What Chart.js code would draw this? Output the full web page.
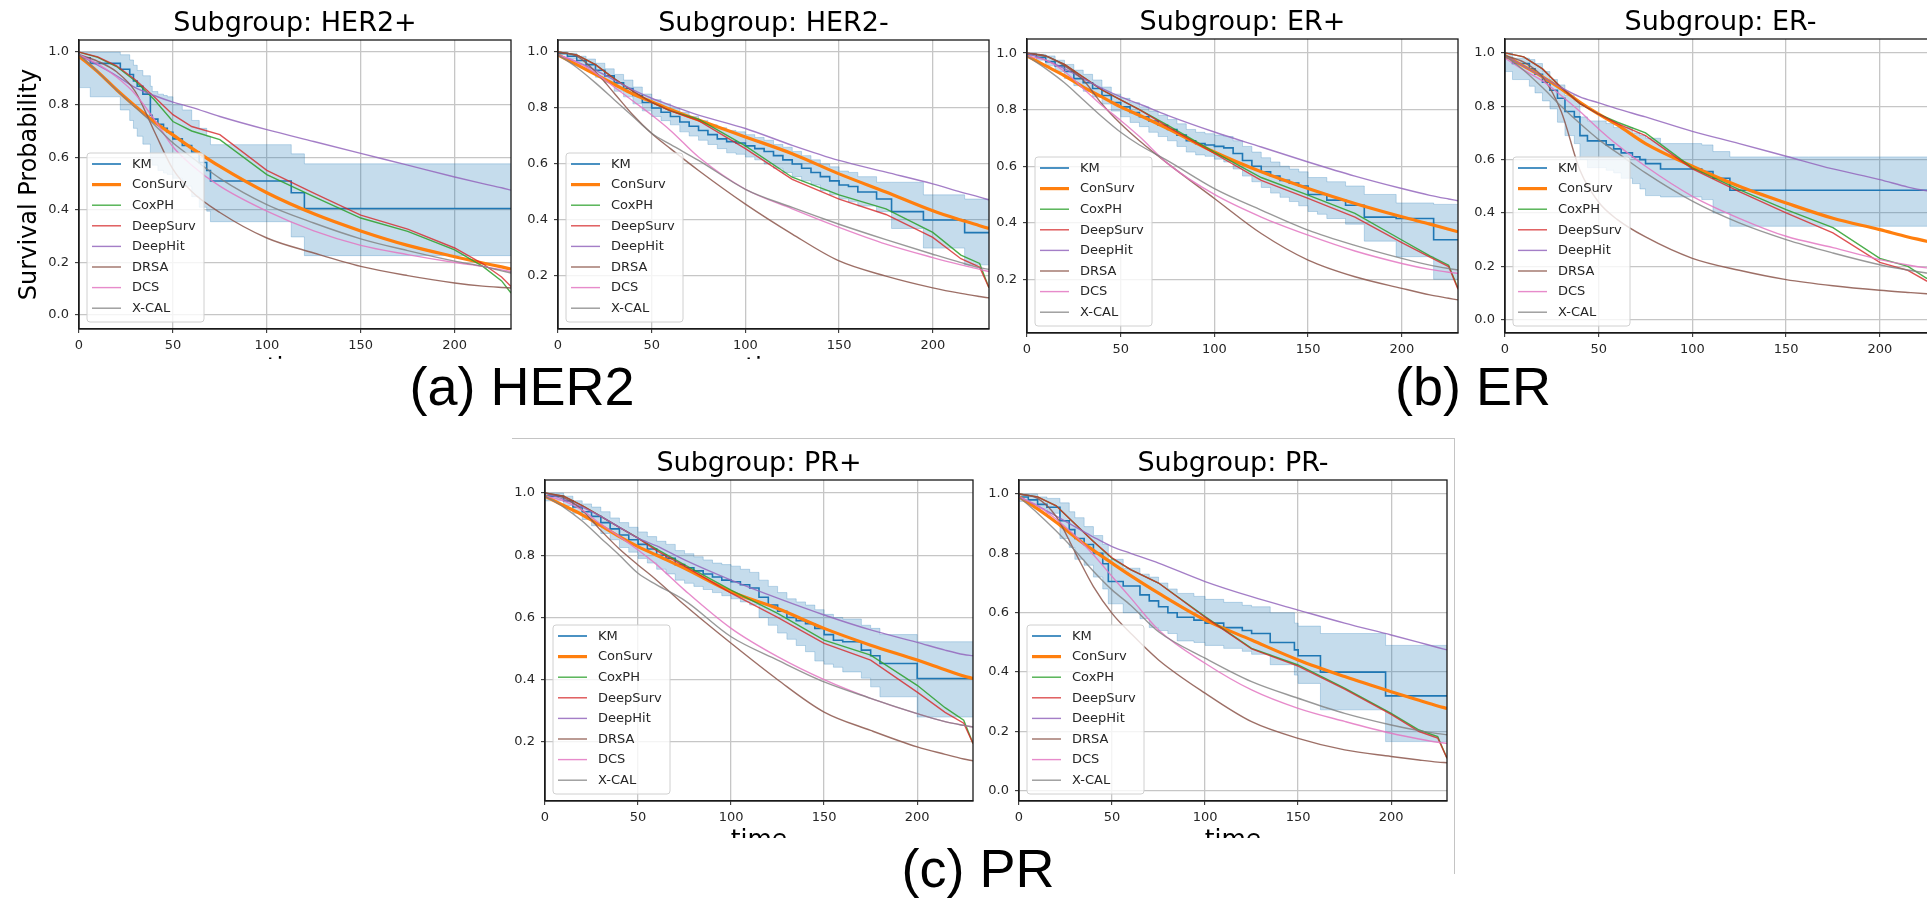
<!DOCTYPE html>
<html>
<head>
<meta charset="utf-8">
<title>Subgroup survival curves</title>
<script src="https://cdn.jsdelivr.net/npm/chart.js@4.4.1/dist/chart.umd.min.js"></script>
<style>
    html, body { margin: 0; padding: 0; overflow: hidden; background: #fff; }
    body { width: 1927px; height: 898px; position: relative; }
    .panel { position: absolute; overflow: hidden; }
    .panel canvas { display: block; }
    .caption { position: absolute; font-family: 'Liberation Sans', Arial, sans-serif; font-size: 54px; line-height: 54px; color: #000; white-space: nowrap; transform: translateX(-50%); }
    #frame { position: absolute; left: 512px; top: 438px; width: 942px; height: 435px; border-top: 1.5px solid #c4c4c4; border-right: 1.5px solid #c4c4c4; }
</style>
</head>
<body>
<div id="frame"></div>
<div class="caption" style="left:522px; top:359px;">(a) HER2</div>
<div class="caption" style="left:1473px; top:359px;">(b) ER</div>
<div class="caption" style="left:978px; top:841px;">(c) PR</div>
<script>
// time grid shared by every model curve
const modelTimes = [0, 10, 20, 30, 40, 50, 60, 75, 100, 125, 150, 175, 200, 215, 225, 230];
const xTicks = [0, 50, 100, 150, 200];
const yTicksAll = [0, 0.2, 0.4, 0.6, 0.8, 1.0];
const legendNames = ['KM', 'ConSurv', 'CoxPH', 'DeepSurv', 'DeepHit', 'DRSA', 'DCS', 'X-CAL'];

// ---- HER2+ ----
const her2pConSurv = [0.985, 0.925, 0.857, 0.794, 0.735, 0.685, 0.635, 0.565, 0.465, 0.385, 0.32, 0.265, 0.222, 0.198, 0.183, 0.175];
const her2pCoxPH = [1.0, 0.98, 0.945, 0.89, 0.82, 0.736, 0.70, 0.667, 0.534, 0.45, 0.369, 0.318, 0.248, 0.185, 0.13, 0.084];
const her2pDeepSurv = [1.0, 0.982, 0.948, 0.895, 0.83, 0.762, 0.717, 0.686, 0.55, 0.464, 0.38, 0.327, 0.255, 0.195, 0.145, 0.109];
const her2pDeepHit = [0.99, 0.95, 0.91, 0.865, 0.835, 0.81, 0.79, 0.755, 0.705, 0.66, 0.615, 0.57, 0.525, 0.5, 0.484, 0.475];
const her2pDRSA = [0.99, 0.965, 0.925, 0.85, 0.70, 0.555, 0.47, 0.39, 0.293, 0.236, 0.185, 0.15, 0.122, 0.11, 0.105, 0.103];
const her2pDCS = [0.99, 0.955, 0.905, 0.84, 0.745, 0.64, 0.57, 0.49, 0.395, 0.32, 0.265, 0.23, 0.2, 0.185, 0.172, 0.165];
const her2pXCAL = [0.99, 0.925, 0.855, 0.79, 0.725, 0.655, 0.6, 0.52, 0.42, 0.35, 0.29, 0.245, 0.205, 0.185, 0.168, 0.16];
const her2pKmTime = [0, 6, 22, 27, 29, 31, 34, 38, 39, 42, 45, 47, 50, 55, 60, 64, 68, 70, 113, 120, 151, 230];
const her2pKm = [1.0, 0.978, 0.957, 0.935, 0.915, 0.89, 0.87, 0.84, 0.76, 0.745, 0.725, 0.71, 0.695, 0.67, 0.645, 0.62, 0.58, 0.55, 0.51, 0.465, 0.405, 0.405];
const her2pKmUpper = [1.0, 1.0, 1.0, 0.99, 0.97, 0.95, 0.93, 0.91, 0.87, 0.85, 0.84, 0.835, 0.83, 0.8, 0.78, 0.74, 0.71, 0.68, 0.648, 0.613, 0.575, 0.575];
const her2pKmLower = [1.0, 0.865, 0.83, 0.78, 0.74, 0.71, 0.68, 0.65, 0.59, 0.57, 0.55, 0.54, 0.535, 0.52, 0.49, 0.45, 0.41, 0.395, 0.355, 0.297, 0.226, 0.226];

// ---- HER2- ----
const her2nConSurv = [0.99, 0.955, 0.92, 0.885, 0.85, 0.823, 0.795, 0.757, 0.697, 0.637, 0.565, 0.5, 0.433, 0.4, 0.38, 0.37];
const her2nCoxPH = [1.0, 0.99, 0.955, 0.905, 0.86, 0.82, 0.79, 0.76, 0.665, 0.553, 0.49, 0.44, 0.356, 0.275, 0.245, 0.158];
const her2nDeepSurv = [1.0, 0.99, 0.955, 0.905, 0.86, 0.82, 0.79, 0.755, 0.655, 0.545, 0.475, 0.42, 0.338, 0.262, 0.232, 0.158];
const her2nDeepHit = [0.99, 0.965, 0.935, 0.9, 0.865, 0.835, 0.81, 0.775, 0.727, 0.667, 0.613, 0.571, 0.529, 0.5, 0.482, 0.472];
const her2nDRSA = [1.0, 0.985, 0.93, 0.853, 0.775, 0.709, 0.655, 0.577, 0.457, 0.35, 0.254, 0.2, 0.158, 0.138, 0.127, 0.122];
const her2nDCS = [0.99, 0.965, 0.925, 0.875, 0.825, 0.775, 0.72, 0.625, 0.51, 0.44, 0.374, 0.314, 0.266, 0.24, 0.224, 0.216];
const her2nXCAL = [0.99, 0.945, 0.89, 0.83, 0.77, 0.71, 0.67, 0.613, 0.51, 0.445, 0.385, 0.33, 0.278, 0.248, 0.23, 0.224];
const her2nKmTime = [0, 5, 10, 15, 20, 25, 30, 35, 40, 45, 50, 55, 60, 65, 70, 75, 80, 85, 90, 95, 100, 105, 110, 115, 120, 125, 130, 135, 140, 145, 150, 155, 160, 170, 178, 195, 217, 226, 230];
const her2nKm = [1.0, 0.995, 0.985, 0.97, 0.955, 0.935, 0.915, 0.89, 0.87, 0.845, 0.82, 0.8, 0.785, 0.77, 0.75, 0.735, 0.72, 0.705, 0.69, 0.68, 0.675, 0.665, 0.655, 0.645, 0.63, 0.615, 0.6, 0.585, 0.57, 0.555, 0.54, 0.525, 0.52, 0.5, 0.475, 0.43, 0.4, 0.355, 0.355];
const her2nKmUpper = [1.0, 1.0, 0.995, 0.985, 0.975, 0.96, 0.94, 0.92, 0.9, 0.875, 0.85, 0.83, 0.815, 0.8, 0.785, 0.77, 0.755, 0.74, 0.73, 0.72, 0.715, 0.705, 0.695, 0.685, 0.67, 0.66, 0.645, 0.63, 0.615, 0.6, 0.59, 0.575, 0.57, 0.555, 0.535, 0.535, 0.49, 0.475, 0.475];
const her2nKmLower = [1.0, 0.99, 0.975, 0.955, 0.935, 0.91, 0.89, 0.86, 0.84, 0.815, 0.79, 0.77, 0.755, 0.74, 0.715, 0.7, 0.685, 0.67, 0.655, 0.64, 0.635, 0.625, 0.615, 0.6, 0.585, 0.57, 0.555, 0.54, 0.525, 0.505, 0.49, 0.475, 0.465, 0.45, 0.43, 0.37, 0.3, 0.24, 0.24];

// ---- ER+ ----
const erpConSurv = [0.99, 0.955, 0.92, 0.88, 0.845, 0.81, 0.78, 0.733, 0.65, 0.58, 0.521, 0.468, 0.421, 0.395, 0.377, 0.368];
const erpCoxPH = [1.0, 0.99, 0.96, 0.915, 0.87, 0.835, 0.8, 0.745, 0.65, 0.56, 0.498, 0.433, 0.339, 0.283, 0.25, 0.168];
const erpDeepSurv = [1.0, 0.99, 0.96, 0.915, 0.87, 0.835, 0.8, 0.74, 0.645, 0.55, 0.486, 0.42, 0.33, 0.278, 0.245, 0.165];
const erpDeepHit = [1.0, 0.975, 0.945, 0.91, 0.875, 0.845, 0.82, 0.78, 0.721, 0.668, 0.615, 0.565, 0.521, 0.497, 0.484, 0.478];
const erpDRSA = [1.0, 0.99, 0.955, 0.905, 0.82, 0.75, 0.69, 0.61, 0.486, 0.362, 0.268, 0.209, 0.168, 0.145, 0.133, 0.127];
const erpDCS = [0.99, 0.975, 0.935, 0.875, 0.815, 0.762, 0.705, 0.61, 0.5, 0.42, 0.356, 0.3, 0.256, 0.235, 0.225, 0.221];
const erpXCAL = [0.99, 0.945, 0.895, 0.835, 0.775, 0.72, 0.675, 0.62, 0.521, 0.445, 0.374, 0.32, 0.274, 0.25, 0.238, 0.233];
const erpKmTime = [0, 5, 10, 15, 20, 25, 30, 35, 40, 45, 50, 55, 60, 65, 70, 75, 80, 85, 90, 95, 100, 105, 110, 115, 120, 125, 130, 135, 140, 145, 150, 155, 160, 170, 180, 197, 217, 227, 230];
const erpKm = [1.0, 0.995, 0.985, 0.97, 0.955, 0.935, 0.91, 0.895, 0.875, 0.85, 0.825, 0.81, 0.79, 0.775, 0.76, 0.745, 0.73, 0.71, 0.69, 0.68, 0.675, 0.67, 0.665, 0.645, 0.62, 0.6, 0.58, 0.565, 0.55, 0.54, 0.53, 0.5, 0.5, 0.48, 0.462, 0.42, 0.415, 0.34, 0.34];
const erpKmUpper = [1.0, 1.0, 0.995, 0.99, 0.975, 0.96, 0.94, 0.925, 0.905, 0.88, 0.855, 0.84, 0.825, 0.81, 0.795, 0.78, 0.765, 0.75, 0.73, 0.72, 0.715, 0.71, 0.705, 0.69, 0.67, 0.65, 0.63, 0.615, 0.6, 0.59, 0.58, 0.56, 0.56, 0.545, 0.53, 0.5, 0.47, 0.465, 0.465];
const erpKmLower = [1.0, 0.99, 0.975, 0.955, 0.935, 0.91, 0.885, 0.865, 0.845, 0.82, 0.795, 0.775, 0.755, 0.74, 0.72, 0.705, 0.69, 0.67, 0.65, 0.64, 0.635, 0.625, 0.615, 0.59, 0.565, 0.545, 0.525, 0.505, 0.49, 0.475, 0.46, 0.44, 0.43, 0.415, 0.395, 0.335, 0.28, 0.2, 0.2];

// ---- ER- ----
const ernConSurv = [0.99, 0.95, 0.91, 0.865, 0.815, 0.77, 0.73, 0.66, 0.575, 0.5, 0.4375, 0.38, 0.3375, 0.31, 0.294, 0.285];
const ernCoxPH = [1.0, 0.985, 0.94, 0.87, 0.81, 0.77, 0.74, 0.7, 0.569, 0.4875, 0.4125, 0.345, 0.23, 0.2, 0.155, 0.15];
const ernDeepSurv = [1.0, 0.985, 0.94, 0.87, 0.81, 0.77, 0.735, 0.69, 0.565, 0.48, 0.4, 0.325, 0.215, 0.185, 0.145, 0.14];
const ernDeepHit = [0.99, 0.95, 0.91, 0.87, 0.835, 0.8125, 0.79, 0.76, 0.706, 0.66, 0.6125, 0.565, 0.525, 0.497, 0.483, 0.478];
const ernDRSA = [0.99, 0.965, 0.91, 0.78, 0.56, 0.44, 0.375, 0.31, 0.23, 0.185, 0.15, 0.127, 0.11, 0.102, 0.097, 0.095];
const ernDCS = [0.98, 0.935, 0.895, 0.84, 0.78, 0.715, 0.655, 0.575, 0.4625, 0.38, 0.3125, 0.27, 0.225, 0.205, 0.194, 0.19];
const ernXCAL = [0.99, 0.935, 0.87, 0.8, 0.735, 0.675, 0.625, 0.55, 0.444, 0.3625, 0.3, 0.25, 0.206, 0.186, 0.175, 0.17];
const ernKmTime = [0, 4, 13, 16, 20, 24, 28, 32, 37, 40, 44, 54, 58, 62, 68, 72, 75, 83, 105, 111, 120, 162, 230];
const ernKm = [1.0, 0.98, 0.96, 0.94, 0.92, 0.89, 0.86, 0.83, 0.78, 0.76, 0.69, 0.67, 0.655, 0.64, 0.625, 0.61, 0.6, 0.585, 0.565, 0.555, 0.53, 0.485, 0.485];
const ernKmUpper = [1.0, 1.0, 0.98, 0.975, 0.96, 0.93, 0.9, 0.88, 0.84, 0.82, 0.76, 0.745, 0.735, 0.72, 0.72, 0.7, 0.69, 0.68, 0.66, 0.655, 0.63, 0.61, 0.61];
const ernKmLower = [1.0, 0.93, 0.9, 0.875, 0.85, 0.82, 0.79, 0.74, 0.69, 0.66, 0.6, 0.57, 0.56, 0.55, 0.53, 0.51, 0.49, 0.465, 0.46, 0.45, 0.4, 0.35, 0.35];

// ---- PR+ ----
const prpConSurv = [0.99, 0.96, 0.93, 0.895, 0.86, 0.828, 0.8, 0.758, 0.683, 0.629, 0.565, 0.511, 0.463, 0.432, 0.412, 0.404];
const prpCoxPH = [1.0, 0.99, 0.96, 0.925, 0.89, 0.855, 0.82, 0.769, 0.688, 0.613, 0.527, 0.479, 0.382, 0.31, 0.27, 0.195];
const prpDeepSurv = [1.0, 0.99, 0.96, 0.925, 0.89, 0.855, 0.815, 0.765, 0.678, 0.6, 0.517, 0.463, 0.36, 0.295, 0.26, 0.195];
const prpDeepHit = [1.0, 0.98, 0.955, 0.925, 0.89, 0.855, 0.83, 0.785, 0.72, 0.662, 0.608, 0.56, 0.52, 0.495, 0.481, 0.477];
const prpDRSA = [1.0, 0.985, 0.945, 0.88, 0.82, 0.769, 0.72, 0.64, 0.517, 0.4, 0.296, 0.237, 0.184, 0.16, 0.145, 0.139];
const prpDCS = [0.99, 0.975, 0.945, 0.9, 0.86, 0.817, 0.77, 0.688, 0.565, 0.474, 0.4, 0.34, 0.291, 0.265, 0.253, 0.248];
const prpXCAL = [0.99, 0.955, 0.91, 0.855, 0.8, 0.742, 0.705, 0.655, 0.538, 0.463, 0.393, 0.34, 0.291, 0.265, 0.253, 0.248];
const prpKmTime = [0, 10, 15, 20, 25, 30, 35, 40, 45, 50, 55, 60, 65, 70, 75, 80, 85, 90, 95, 100, 105, 110, 115, 120, 125, 130, 135, 140, 145, 150, 155, 160, 170, 175, 180, 200, 218, 230];
const prpKm = [1.0, 0.99, 0.975, 0.955, 0.94, 0.925, 0.905, 0.885, 0.865, 0.85, 0.835, 0.82, 0.8, 0.79, 0.77, 0.76, 0.75, 0.74, 0.73, 0.72, 0.715, 0.705, 0.695, 0.665, 0.64, 0.62, 0.6, 0.59, 0.58, 0.565, 0.545, 0.527, 0.522, 0.495, 0.477, 0.452, 0.404, 0.404];
const prpKmUpper = [1.0, 1.0, 0.99, 0.975, 0.965, 0.955, 0.94, 0.92, 0.905, 0.89, 0.875, 0.86, 0.845, 0.835, 0.815, 0.805, 0.795, 0.785, 0.775, 0.77, 0.765, 0.755, 0.745, 0.72, 0.7, 0.68, 0.66, 0.65, 0.64, 0.625, 0.61, 0.6, 0.595, 0.575, 0.565, 0.545, 0.522, 0.522];
const prpKmLower = [1.0, 0.975, 0.96, 0.935, 0.915, 0.895, 0.87, 0.85, 0.825, 0.81, 0.79, 0.775, 0.755, 0.74, 0.72, 0.71, 0.7, 0.69, 0.68, 0.67, 0.66, 0.65, 0.64, 0.6, 0.575, 0.55, 0.53, 0.51, 0.49, 0.46, 0.45, 0.44, 0.425, 0.405, 0.377, 0.345, 0.28, 0.28];

// ---- PR- ----
const prnConSurv = [0.99, 0.95, 0.905, 0.855, 0.81, 0.767, 0.725, 0.666, 0.576, 0.508, 0.441, 0.385, 0.334, 0.305, 0.286, 0.278];
const prnCoxPH = [1.0, 0.99, 0.96, 0.9, 0.84, 0.783, 0.745, 0.7, 0.587, 0.48, 0.424, 0.346, 0.261, 0.205, 0.183, 0.11];
const prnDeepSurv = [1.0, 0.99, 0.96, 0.9, 0.84, 0.785, 0.745, 0.7, 0.585, 0.478, 0.42, 0.343, 0.258, 0.2, 0.178, 0.11];
const prnDeepHit = [0.99, 0.96, 0.925, 0.89, 0.855, 0.823, 0.8, 0.767, 0.705, 0.654, 0.609, 0.565, 0.525, 0.5, 0.483, 0.475];
const prnDRSA = [1.0, 0.985, 0.924, 0.806, 0.688, 0.598, 0.531, 0.441, 0.329, 0.233, 0.177, 0.138, 0.116, 0.104, 0.097, 0.095];
const prnDCS = [0.99, 0.96, 0.915, 0.86, 0.795, 0.722, 0.65, 0.542, 0.43, 0.34, 0.278, 0.234, 0.194, 0.175, 0.164, 0.16];
const prnXCAL = [0.99, 0.935, 0.875, 0.81, 0.74, 0.677, 0.625, 0.536, 0.447, 0.368, 0.312, 0.261, 0.222, 0.203, 0.193, 0.189];
const prnKmTime = [0, 5, 10, 15, 22, 27, 30, 35, 40, 45, 48, 56, 65, 70, 75, 80, 85, 94, 100, 110, 120, 125, 135, 148, 150, 162, 197, 227, 230];
const prnKm = [1.0, 0.99, 0.98, 0.965, 0.955, 0.91, 0.88, 0.85, 0.83, 0.8, 0.765, 0.705, 0.69, 0.66, 0.64, 0.62, 0.6, 0.585, 0.575, 0.565, 0.55, 0.54, 0.53, 0.5, 0.475, 0.455, 0.4, 0.32, 0.32];
const prnKmUpper = [1.0, 1.0, 1.0, 0.99, 0.985, 0.97, 0.94, 0.92, 0.89, 0.86, 0.83, 0.78, 0.75, 0.73, 0.72, 0.7, 0.68, 0.665, 0.655, 0.645, 0.635, 0.625, 0.62, 0.6, 0.565, 0.555, 0.53, 0.49, 0.49];
const prnKmLower = [1.0, 0.975, 0.965, 0.95, 0.935, 0.85, 0.82, 0.78, 0.76, 0.72, 0.68, 0.63, 0.6, 0.58, 0.55, 0.54, 0.53, 0.505, 0.5, 0.49, 0.48, 0.47, 0.46, 0.425, 0.39, 0.362, 0.273, 0.166, 0.166];

// line colours (matplotlib tab10) and widths
const lineStyles = {
    'KM': { color: '#1f77b4', width: 1.6 },
    'ConSurv': { color: '#ff7f0e', width: 3.2 },
    'CoxPH': { color: 'rgba(44,160,44,0.85)', width: 1.4 },
    'DeepSurv': { color: 'rgba(214,39,40,0.8)', width: 1.4 },
    'DeepHit': { color: 'rgba(148,103,189,0.85)', width: 1.4 },
    'DRSA': { color: 'rgba(140,86,75,0.85)', width: 1.4 },
    'DCS': { color: 'rgba(227,119,194,0.85)', width: 1.4 },
    'X-CAL': { color: 'rgba(127,127,127,0.8)', width: 1.4 }
};
const bandColor = 'rgba(31,119,180,0.26)';
const gridColor = '#c6c6c6';

// find a DejaVu-like sans; if the name does not resolve, scale sizes so text widths still match
function pickFont() {
    const ctx = document.createElement('canvas').getContext('2d');
    const target = 904;   // width of 'Subgroup: HER2+' at 100px in DejaVu Sans
    const names = ['DejaVu Sans', 'DejaVuSans', 'DejaVu Sans Book', 'Bitstream Vera Sans', 'Verdana', 'sans-serif'];
    let best = null;
    for (const n of names) {
        ctx.font = n === 'sans-serif' ? '100px sans-serif' : '100px "' + n + '"';
        const w = ctx.measureText('Subgroup: HER2+').width;
        if (Math.abs(w - target) < 20) return { family: n === 'sans-serif' ? n : '"' + n + '"', scale: 1 };
        if (!best) best = { family: n === 'sans-serif' ? n : '"' + n + '"', scale: target / w };
    }
    return best;
}
const font = pickFont();
const fs = size => Math.round(size * font.scale * 10) / 10;
const tickFont = { family: font.family, size: fs(13) };

// one entry per subplot: plot box in page pixels + its data
const panels = [
    { title: 'Subgroup: HER2+', box: { l: 79, t: 40, r: 511, b: 329 }, yMin: -0.053, yMax: 1.046, clipY: 359, yLabel: true,
      models: { 'ConSurv': her2pConSurv, 'CoxPH': her2pCoxPH, 'DeepSurv': her2pDeepSurv, 'DeepHit': her2pDeepHit, 'DRSA': her2pDRSA, 'DCS': her2pDCS, 'X-CAL': her2pXCAL },
      kmTime: her2pKmTime, km: her2pKm, kmUpper: her2pKmUpper, kmLower: her2pKmLower },
    { title: 'Subgroup: HER2-', box: { l: 558, t: 40, r: 989, b: 329 }, yMin: 0.011, yMax: 1.043, clipY: 359,
      models: { 'ConSurv': her2nConSurv, 'CoxPH': her2nCoxPH, 'DeepSurv': her2nDeepSurv, 'DeepHit': her2nDeepHit, 'DRSA': her2nDRSA, 'DCS': her2nDCS, 'X-CAL': her2nXCAL },
      kmTime: her2nKmTime, km: her2nKm, kmUpper: her2nKmUpper, kmLower: her2nKmLower },
    { title: 'Subgroup: ER+', box: { l: 1027, t: 39, r: 1458, b: 333 }, yMin: 0.01, yMax: 1.05, clipY: 360,
      models: { 'ConSurv': erpConSurv, 'CoxPH': erpCoxPH, 'DeepSurv': erpDeepSurv, 'DeepHit': erpDeepHit, 'DRSA': erpDRSA, 'DCS': erpDCS, 'X-CAL': erpXCAL },
      kmTime: erpKmTime, km: erpKm, kmUpper: erpKmUpper, kmLower: erpKmLower },
    { title: 'Subgroup: ER-', box: { l: 1505, t: 39, r: 1936, b: 333 }, yMin: -0.05, yMax: 1.052, clipY: 360,
      models: { 'ConSurv': ernConSurv, 'CoxPH': ernCoxPH, 'DeepSurv': ernDeepSurv, 'DeepHit': ernDeepHit, 'DRSA': ernDRSA, 'DCS': ernDCS, 'X-CAL': ernXCAL },
      kmTime: ernKmTime, km: ernKm, kmUpper: ernKmUpper, kmLower: ernKmLower },
    { title: 'Subgroup: PR+', box: { l: 545, t: 480, r: 973, b: 801 }, yMin: 0.01, yMax: 1.042, clipY: 838,
      models: { 'ConSurv': prpConSurv, 'CoxPH': prpCoxPH, 'DeepSurv': prpDeepSurv, 'DeepHit': prpDeepHit, 'DRSA': prpDRSA, 'DCS': prpDCS, 'X-CAL': prpXCAL },
      kmTime: prpKmTime, km: prpKm, kmUpper: prpKmUpper, kmLower: prpKmLower },
    { title: 'Subgroup: PR-', box: { l: 1019, t: 480, r: 1447, b: 801 }, yMin: -0.034, yMax: 1.047, clipY: 838,
      models: { 'ConSurv': prnConSurv, 'CoxPH': prnCoxPH, 'DeepSurv': prnDeepSurv, 'DeepHit': prnDeepHit, 'DRSA': prnDRSA, 'DCS': prnDCS, 'X-CAL': prnXCAL },
      kmTime: prnKmTime, km: prnKm, kmUpper: prnKmUpper, kmLower: prnKmLower }
];

function toPoints(times, values) {
    return times.map((t, i) => ({ x: t, y: values[i] }));
}

// frame on all four sides + matplotlib style legend in the lower left corner
const mplLegend = {
    id: 'mplLegend',
    afterDatasetsDraw(chart) {
        const { ctx, chartArea } = chart;
        ctx.save();
        ctx.strokeStyle = '#1a1a1a';
        ctx.lineWidth = 1.3;
        ctx.strokeRect(chartArea.left, chartArea.top, chartArea.right - chartArea.left, chartArea.bottom - chartArea.top);

        const w = 117, h = 169, r = 3;
        const x = chartArea.left + 8, y = chartArea.bottom - 7 - h;
        ctx.beginPath();
        ctx.moveTo(x + r, y);
        ctx.arcTo(x + w, y, x + w, y + h, r);
        ctx.arcTo(x + w, y + h, x, y + h, r);
        ctx.arcTo(x, y + h, x, y, r);
        ctx.arcTo(x, y, x + w, y, r);
        ctx.closePath();
        ctx.fillStyle = 'rgba(255,255,255,0.8)';
        ctx.fill();
        ctx.strokeStyle = '#d0d0d0';
        ctx.lineWidth = 1;
        ctx.stroke();

        ctx.font = fs(13) + 'px ' + font.family;
        ctx.textBaseline = 'middle';
        ctx.textAlign = 'left';
        legendNames.forEach((name, i) => {
            const cy = y + 11 + i * 20.6;
            ctx.beginPath();
            ctx.moveTo(x + 5, cy);
            ctx.lineTo(x + 34, cy);
            ctx.strokeStyle = lineStyles[name].color;
            ctx.lineWidth = lineStyles[name].width;
            ctx.stroke();
            ctx.fillStyle = '#262626';
            ctx.fillText(name, x + 45, cy + 0.5);
        });
        ctx.restore();
    }
};

function makePanel(p) {
    const padL = p.yLabel ? p.box.l : 45;   // room for y tick labels (and y title)
    const padT = 40, padB = 60, padR = 12;
    const plotW = p.box.r - p.box.l, plotH = p.box.b - p.box.t;
    const titleSize = fs(27);
    const titleLine = titleSize * 1.2;

    const wrap = document.createElement('div');
    wrap.className = 'panel';
    wrap.style.left = (p.box.l - padL) + 'px';
    wrap.style.top = (p.box.t - padT) + 'px';
    wrap.style.width = (padL + plotW + padR) + 'px';
    wrap.style.height = (p.clipY - (p.box.t - padT)) + 'px';
    const canvas = document.createElement('canvas');
    canvas.width = padL + plotW + padR;
    canvas.height = padT + plotH + padB;
    wrap.appendChild(canvas);
    document.body.appendChild(wrap);

    // first dataset is drawn last (on top), like the last matplotlib call
    const drawOrder = ['X-CAL', 'DCS', 'DRSA', 'DeepHit', 'DeepSurv', 'CoxPH', 'ConSurv'];
    const datasets = drawOrder.map(name => ({
        label: name,
        data: toPoints(modelTimes, p.models[name]),
        borderColor: lineStyles[name].color,
        borderWidth: lineStyles[name].width,
        pointRadius: 0,
        fill: false,
        tension: 0,
        cubicInterpolationMode: (name === 'CoxPH' || name === 'DeepSurv') ? 'default' : 'monotone'
    }));
    datasets.push({
        label: 'KM', data: toPoints(p.kmTime, p.km), stepped: 'after',
        borderColor: lineStyles['KM'].color, borderWidth: lineStyles['KM'].width, pointRadius: 0, fill: false
    });
    datasets.push({
        label: 'KM upper', data: toPoints(p.kmTime, p.kmUpper), stepped: 'after',
        borderColor: bandColor, borderWidth: 1, pointRadius: 0, fill: '+1', backgroundColor: bandColor
    });
    datasets.push({
        label: 'KM lower', data: toPoints(p.kmTime, p.kmLower), stepped: 'after',
        borderColor: bandColor, borderWidth: 1, pointRadius: 0, fill: false
    });

    new Chart(canvas, {
        type: 'line',
        data: { datasets: datasets },
        options: {
            responsive: false,
            animation: false,
            layout: { padding: { left: 0, right: padR, top: 0, bottom: 0 }, autoPadding: false },
            plugins: {
                legend: { display: false },
                tooltip: { enabled: false },
                title: {
                    display: true, text: p.title, fullSize: false, color: '#000',
                    font: { family: font.family, size: titleSize, weight: 'normal' },
                    padding: { top: padT - titleLine, bottom: 0 }
                }
            },
            scales: {
                x: {
                    type: 'linear', min: 0, max: 230,
                    afterBuildTicks: s => { s.ticks = xTicks.map(v => ({ value: v })); },
                    afterFit: s => { s.height = padB; },
                    grid: { color: gridColor, lineWidth: 1.3, tickLength: 4, tickColor: '#222', tickWidth: 1 },
                    border: { color: '#1a1a1a', width: 1.3 },
                    ticks: { padding: 5, color: '#262626', font: tickFont, maxRotation: 0, autoSkip: false, callback: v => String(v) },
                    title: { display: true, text: 'time', color: '#000', font: { family: font.family, size: fs(25) }, padding: { top: 0, bottom: 5.5 } }
                },
                y: {
                    type: 'linear', min: p.yMin, max: p.yMax,
                    afterBuildTicks: s => {
                        s.ticks = yTicksAll.filter(v => v >= s.min - 1e-9 && v <= s.max + 1e-9).map(v => ({ value: v }));
                    },
                    afterFit: s => { s.width = padL; },
                    grid: { color: gridColor, lineWidth: 1.3, tickLength: 4, tickColor: '#222', tickWidth: 1 },
                    border: { color: '#1a1a1a', width: 1.3 },
                    ticks: { padding: 6, color: '#262626', font: tickFont, autoSkip: false, callback: v => Number(v).toFixed(1) },
                    title: {
                        display: !!p.yLabel, text: 'Survival Probability', color: '#000',
                        font: { family: font.family, size: fs(24) }, padding: { top: 15, bottom: 0 }
                    }
                }
            }
        },
        plugins: [mplLegend]
    });
}

panels.forEach(makePanel);
</script>
</body>
</html>
